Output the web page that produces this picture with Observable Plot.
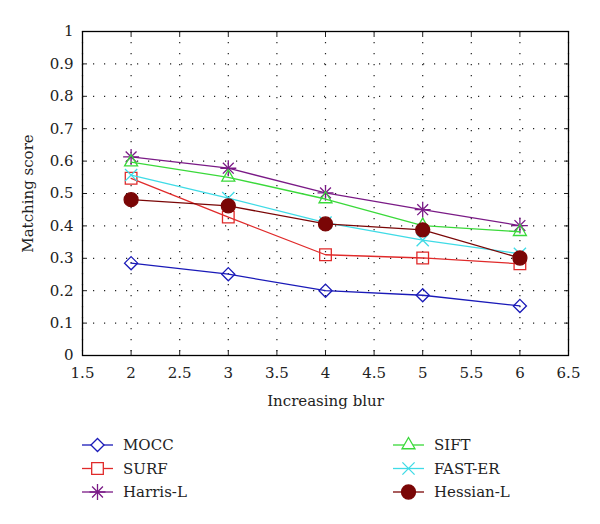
<!DOCTYPE html>
<html><head><meta charset="utf-8">
<script src="https://cdn.jsdelivr.net/npm/d3@7"></script>
<script src="https://cdn.jsdelivr.net/npm/@observablehq/plot@0.6"></script>
<style>
body{margin:0;background:#fff;font-family:"DejaVu Serif",serif}
#wrap{position:relative;width:600px;height:524px}
#legend{position:absolute;left:0;top:0;width:600px;height:524px;pointer-events:none}
</style>
</head><body><div id="wrap"><div id="chart"></div><svg id="legend" width="600" height="524"></svg></div>
<script>
// ---- data ----
const blur = [2, 3, 4, 5, 6];
const mocc     = [0.285, 0.251, 0.200, 0.186, 0.153];
const surf     = [0.547, 0.427, 0.311, 0.301, 0.283];
const harrisL  = [0.613, 0.578, 0.502, 0.450, 0.401];
const sift     = [0.597, 0.550, 0.483, 0.401, 0.382];
const fastER   = [0.557, 0.486, 0.410, 0.356, 0.314];
const hessianL = [0.481, 0.462, 0.406, 0.388, 0.301];
const seriesNames = ["MOCC", "SURF", "Harris-L", "SIFT", "FAST-ER", "Hessian-L"];
const seriesValues = [mocc, surf, harrisL, sift, fastER, hessianL];
const xTicks = [1.5, 2, 2.5, 3, 3.5, 4, 4.5, 5, 5.5, 6, 6.5];
const yTicks = [0, 0.1, 0.2, 0.3, 0.4, 0.5, 0.6, 0.7, 0.8, 0.9, 1];

// ---- styles ----
const styles = {
  "MOCC":      {color: "#1a1ab8", symbols: [["diamond2", 5.9]], fill: "none"},
  "SURF":      {color: "#e02a2a", symbols: [["square2", 7.4]], fill: "none"},
  "Harris-L":  {color: "#7a1a86", symbols: [["plus", 5.2], ["times", 5.0]], fill: "none"},
  "SIFT":      {color: "#3ad93a", symbols: [["triangle2", 6.2]], fill: "none"},
  "FAST-ER":   {color: "#3fdbe6", symbols: [["times", 5.6]], fill: "none"},
  "Hessian-L": {color: "#7a0606", symbols: [["circle", 7]], fill: "#7a0606"}
};

const rows = [];
seriesNames.forEach((name, i) => blur.forEach((b, j) => rows.push({series: name, blur: b, score: seriesValues[i][j]})));

const font = '"DejaVu Serif", serif';
const fmt = d => String(d);
const blank = () => "";
const marks = [
  Plot.gridX(xTicks, {stroke: "#222", strokeOpacity: 1, strokeDasharray: "1.2,9.8", strokeWidth: 1.2}),
  Plot.gridY(yTicks, {stroke: "#222", strokeOpacity: 1, strokeDasharray: "1.2,9.8", strokeWidth: 1.2}),
  Plot.axisX(xTicks, {anchor: "bottom", tickSize: -5, tickPadding: 17, tickFormat: fmt, fontSize: 15, label: "Increasing blur", labelAnchor: "center", labelOffset: 50, labelArrow: false}),
  Plot.axisX(xTicks, {anchor: "top", tickSize: -5, tickFormat: blank, label: null}),
  Plot.axisY(yTicks, {anchor: "left", tickSize: -5, tickPadding: 14, tickFormat: fmt, fontSize: 15, label: "Matching score", labelAnchor: "center", labelOffset: 60, labelArrow: false}),
  Plot.axisY(yTicks, {anchor: "right", tickSize: -5, tickFormat: blank, label: null}),
  Plot.frame({stroke: "#000", strokeWidth: 1.3})
];
seriesNames.forEach(name => {
  const st = styles[name];
  const data = rows.filter(d => d.series === name);
  marks.push(Plot.line(data, {x: "blur", y: "score", stroke: st.color, strokeWidth: 1.3}));
  st.symbols.forEach(([sym, r]) => {
    marks.push(Plot.dot(data, {x: "blur", y: "score", symbol: sym, r, stroke: st.color, fill: st.fill, strokeWidth: 1.3}));
  });
});

const chart = Plot.plot({
  width: 600, height: 418,
  marginLeft: 82, marginRight: 32, marginTop: 31, marginBottom: 63,
  style: {fontFamily: font, fontSize: "15px", color: "#222", background: "#fff"},
  x: {domain: [1.5, 6.5]},
  y: {domain: [0, 1]},
  marks
});
document.getElementById("chart").appendChild(chart);

// ---- legend ----
const leg = d3.select("#legend");
const legPos = [[82, 445], [82, 468.5], [82, 492], [393, 445], [393, 468.5], [393, 492]];
const symMap = {diamond2: d3.symbolDiamond2, square2: d3.symbolSquare2, plus: d3.symbolPlus, times: d3.symbolTimes, triangle2: d3.symbolTriangle2, circle: d3.symbolCircle};
seriesNames.forEach((name, i) => {
  const st = styles[name];
  const [x0, y0] = legPos[i];
  const g = leg.append("g").attr("transform", `translate(${x0},${y0})`);
  g.append("line").attr("x1", 0).attr("x2", 31).attr("y1", 0).attr("y2", 0).attr("stroke", st.color).attr("stroke-width", 1.3);
  st.symbols.forEach(([sym, r]) => {
    g.append("path").attr("transform", "translate(15.5,0)")
      .attr("d", d3.symbol(symMap[sym], r * r * Math.PI)())
      .attr("stroke", st.color).attr("stroke-width", 1.3)
      .attr("fill", st.fill === "none" ? "#fff" : st.fill);
  });
  g.append("text").attr("x", 41).attr("y", 0).attr("dy", "0.35em")
    .attr("font-family", font).attr("font-size", 15).attr("fill", "#222").text(name);
});
</script></body></html>
